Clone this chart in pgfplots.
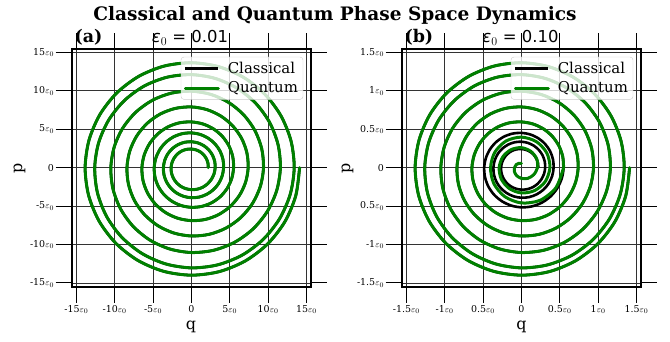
\documentclass[border=0pt]{standalone}
\usepackage{pgfplots}
\usepackage{pgfplotstable}
\pgfplotsset{compat=1.18}
\usepackage{fontspec}
\setmainfont{DejaVu Serif}
\newfontfamily\dvsans{DejaVu Sans}
\definecolor{mplgreen}{RGB}{0,128,0}

% spiral: angle (deg), radius (panel (a): units of eps0; panel (b): units of 0.1 eps0)
\pgfplotstableread{
a r
0 2.20
15 2.235
30 2.27
45 2.31
60 2.35
75 2.385
90 2.42
105 2.46
120 2.50
135 2.535
150 2.57
165 2.61
180 2.65
195 2.685
210 2.72
225 2.76
240 2.80
255 2.835
270 2.87
285 2.91
300 2.95
315 2.985
330 3.02
345 3.06
360 3.10
375 3.145
390 3.19
405 3.235
420 3.28
435 3.325
450 3.37
465 3.415
480 3.46
495 3.51
510 3.56
525 3.605
540 3.65
555 3.695
570 3.74
585 3.785
600 3.83
615 3.875
630 3.92
645 3.965
660 4.01
675 4.06
690 4.11
705 4.155
720 4.20
735 4.255
750 4.31
765 4.36
780 4.41
795 4.465
810 4.52
825 4.575
840 4.63
855 4.685
870 4.74
885 4.795
900 4.85
915 4.905
930 4.96
945 5.01
960 5.06
975 5.115
990 5.17
1005 5.225
1020 5.28
1035 5.335
1050 5.39
1065 5.445
1080 5.50
1095 5.575
1110 5.65
1125 5.725
1140 5.80
1155 5.875
1170 5.95
1185 6.035
1200 6.12
1215 6.20
1230 6.28
1245 6.365
1260 6.45
1275 6.525
1290 6.60
1305 6.675
1320 6.75
1335 6.825
1350 6.90
1365 6.985
1380 7.07
1395 7.15
1410 7.23
1425 7.315
1440 7.40
1455 7.485
1470 7.57
1485 7.65
1500 7.73
1515 7.815
1530 7.90
1545 7.985
1560 8.07
1575 8.15
1590 8.23
1605 8.315
1620 8.40
1635 8.485
1650 8.57
1665 8.65
1680 8.73
1695 8.815
1710 8.90
1725 8.985
1740 9.07
1755 9.15
1770 9.23
1785 9.315
1800 9.40
1815 9.49
1830 9.58
1845 9.675
1860 9.77
1875 9.86
1890 9.95
1905 10.04
1920 10.13
1935 10.225
1950 10.32
1965 10.41
1980 10.50
1995 10.59
2010 10.68
2025 10.775
2040 10.87
2055 10.96
2070 11.05
2085 11.14
2100 11.23
2115 11.325
2130 11.42
2145 11.51
2160 11.60
2175 11.685
2190 11.77
2205 11.85
2220 11.93
2235 12.015
2250 12.10
2265 12.185
2280 12.27
2295 12.35
2310 12.43
2325 12.515
2340 12.60
2355 12.675
2370 12.75
2385 12.825
2400 12.90
2415 12.975
2430 13.05
2445 13.11
2460 13.17
2475 13.225
2490 13.28
2505 13.34
2520 13.40
2535 13.44
2550 13.48
2565 13.525
2580 13.57
2595 13.61
2610 13.65
2625 13.685
2640 13.72
2655 13.75
2670 13.78
2685 13.815
2700 13.85
2715 13.875
2730 13.90
2745 13.925
2760 13.95
2775 13.975
2790 14.00
2805 14.015
2820 14.03
2835 14.05
2850 14.07
2865 14.085
2880 14.10
}\spiral

% panel (b), quantum, inner part (units of 0.1 eps0)
\pgfplotstableread{
a r
90 0.55
120 0.65
150 0.78
180 0.90
210 1.05
240 1.22
270 1.40
300 1.62
330 1.85
360 2.10
390 2.30
420 2.45
450 2.60
480 2.70
510 2.80
540 2.90
570 3.02
600 3.15
630 3.30
660 3.45
690 3.60
720 3.72
750 3.82
780 3.90
810 3.97
840 4.00
870 4.00
900 4.02
930 4.15
960 4.35
990 4.60
1020 4.90
1050 5.20
1080 5.50
}\quantin

\pgfplotsset{
  panel/.style={
    scale only axis, width=239bp, height=237.4bp,
    xmin=-15.6, xmax=15.55, ymin=-15.5, ymax=15.4,
    xtick={-15,-10,-5,0,5,10,15}, ytick={-15,-10,-5,0,5,10,15},
    axis line style={line width=1.8bp},
    grid=major,
    major grid style={black!80, line width=0.7bp},
    tick align=outside,
    major tick length=16bp,
    tick style={black, line width=0.8bp},
    tick label style={font=\fontsize{9.5}{10}\selectfont},
    xticklabel style={inner sep=1.5bp, yshift=-1bp},
    yticklabel style={inner sep=1.5bp},
    legend cell align=left,
    legend style={at={(1,1)}, anchor=north east, xshift=-7.5bp, yshift=-7.5bp,
      fill=white, fill opacity=0.8, text opacity=1, draw=black!20,
      rounded corners=3bp, font=\fontsize{15}{17}\selectfont,
      inner xsep=3bp, inner ysep=3bp, row sep=3bp,
      /tikz/every odd column/.append style={column sep=6bp}},
    legend image code/.code={\draw[##1, line width=2.8bp] (0bp,0bp) -- (33bp,0bp);},
  },
  clas/.style={black, line width=2.6bp, smooth, data cs=polar},
  quan/.style={mplgreen, line width=3bp, smooth, data cs=polar, line cap=round},
}

\begin{document}
\begin{tikzpicture}[x=1bp,y=1bp]
\useasboundingbox (0,0) rectangle (670,341);
\node[font=\bfseries\fontsize{18.6}{20}\selectfont, anchor=base] at (335,320.5) {Classical and Quantum Phase Space Dynamics};

\begin{axis}[panel, at={(71.7bp,54.3bp)}, anchor=south west,
  xticklabels={-15$\varepsilon_0$,-10$\varepsilon_0$,-5$\varepsilon_0$,0,5$\varepsilon_0$,10$\varepsilon_0$,15$\varepsilon_0$},
  yticklabels={-15$\varepsilon_0$,-10$\varepsilon_0$,-5$\varepsilon_0$,0,5$\varepsilon_0$,10$\varepsilon_0$,15$\varepsilon_0$},
]
\addplot[clas] table[x=a, y=r] {\spiral};
\addlegendentry{Classical}
\addplot[quan] table[x=a, y=r] {\spiral};
\addlegendentry{Quantum}
\end{axis}

\begin{axis}[panel, at={(401.7bp,54.3bp)}, anchor=south west,
  xticklabels={-1.5$\varepsilon_0$,-1$\varepsilon_0$,0.5$\varepsilon_0$,0,0.5$\varepsilon_0$,1$\varepsilon_0$,1.5$\varepsilon_0$},
  yticklabels={-1.5$\varepsilon_0$,-1$\varepsilon_0$,0.5$\varepsilon_0$,0,0.5$\varepsilon_0$,1$\varepsilon_0$,1.5$\varepsilon_0$},
]
\addplot[clas] table[x=a, y=r] {\spiral};
\addlegendentry{Classical}
\addplot[quan] table[x=a, y=r] {\quantin};
\addlegendentry{Quantum}
\addplot[quan, forget plot, skip coords between index={0}{72}] table[x=a, y=r] {\spiral};
\end{axis}

\node[font=\fontsize{16}{18}\selectfont, anchor=base] at (191,12) {q};
\node[font=\fontsize{16}{18}\selectfont, anchor=base] at (521.5,12) {q};
\node[font=\fontsize{16}{18}\selectfont, anchor=base, rotate=90] at (22,173) {p};
\node[font=\fontsize{16}{18}\selectfont, anchor=base, rotate=90] at (350,173) {p};

\node[font=\bfseries\fontsize{17.5}{20}\selectfont, anchor=base west] at (71,298.5) {(a)};
\node[font=\dvsans\fontsize{16.5}{20}\selectfont, anchor=base] at (190,298.5) {{\itshape ε}$_0$ = 0.01};
\node[font=\bfseries\fontsize{17.5}{20}\selectfont, anchor=base west] at (401,298.5) {(b)};
\node[font=\dvsans\fontsize{16.5}{20}\selectfont, anchor=base] at (520.5,298.5) {{\itshape ε}$_0$ = 0.10};
\end{tikzpicture}
\end{document}
